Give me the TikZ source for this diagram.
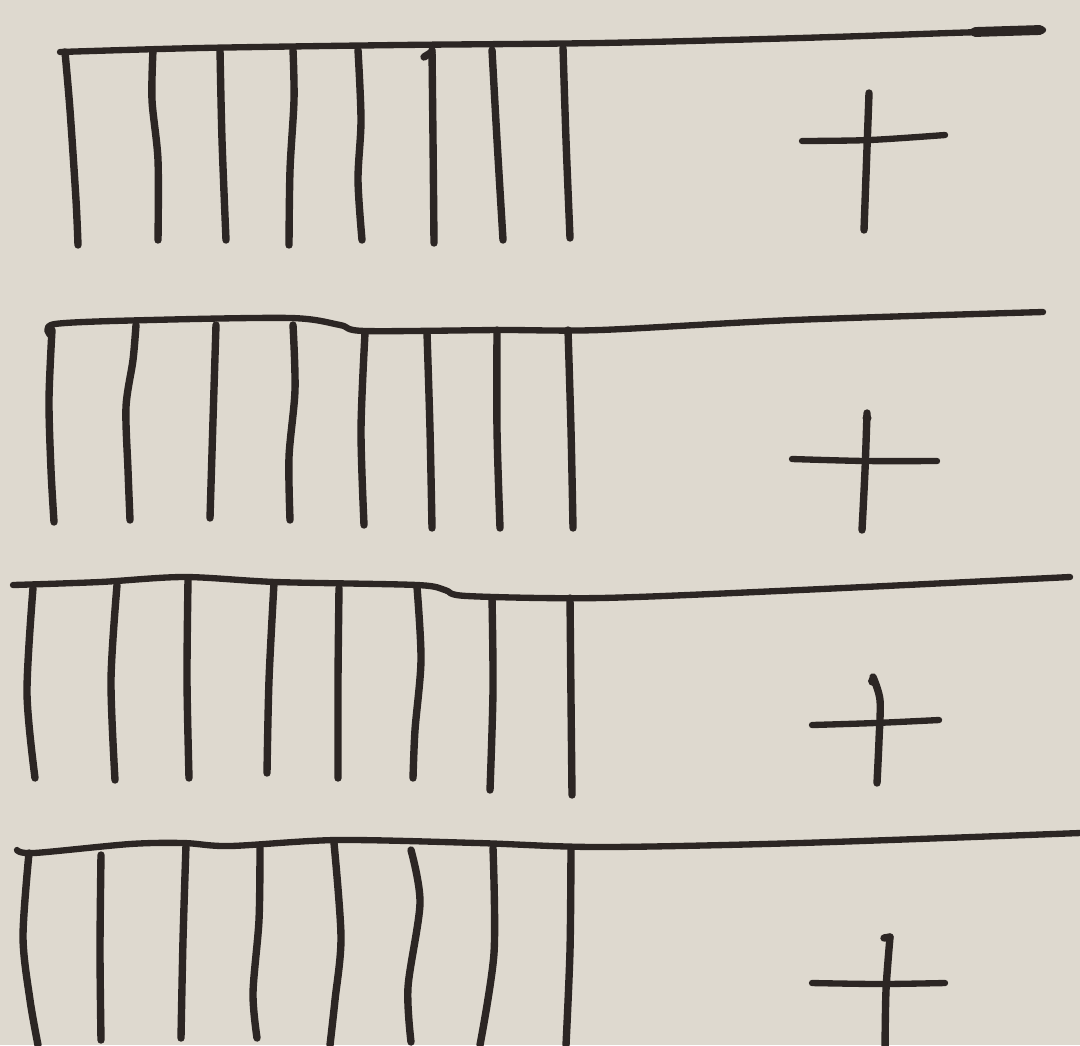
\documentclass[tikz,border=0pt]{standalone}
\definecolor{paper}{RGB}{222,217,207}
\definecolor{inkc}{RGB}{44,38,36}
\tikzset{
  pen/.style={draw=inkc, line width=2.1pt, line cap=round, line join=round},
  rule/.style={draw=inkc, line width=1.8pt, line cap=round, line join=round},
  crossbar/.style={draw=inkc, line width=1.8pt, line cap=round},
}
\begin{document}
\begin{tikzpicture}[x=0.01cm,y=-0.01cm]
\fill[paper] (0,0) rectangle (1080,1045);
\useasboundingbox (0,0) rectangle (1080,1045);
\begin{scope}
\clip (0,0) rectangle (1080,1045);
% ---------- row 1 ----------
\draw[rule] plot[smooth,tension=0.5] coordinates {(60,52) (200,48) (400,45) (600,43) (800,38) (950,33) (1043,30)};
\draw[draw=inkc,line width=2.8pt,line cap=round] (975,32) -- (1040,30);
\draw[pen] plot[smooth,tension=0.5] coordinates {(65,52) (70,110) (76,200) (78,245)};
\draw[pen] plot[smooth,tension=0.5] coordinates {(153,50) (152,100) (158,160) (158,240)};
\draw[pen] plot[smooth,tension=0.5] coordinates {(220,50) (222,140) (226,240)};
\draw[pen] plot[smooth,tension=0.5] coordinates {(293,50) (294,100) (290,170) (289,245)};
\draw[pen] plot[smooth,tension=0.5] coordinates {(358,50) (361,120) (358,180) (362,240)};
\draw[pen] plot[smooth,tension=0.5] coordinates {(432,50) (433,140) (434,243)};
\draw[pen] (424,57) -- (432,52);
\draw[pen] plot[smooth,tension=0.5] coordinates {(492,50) (497,140) (503,240)};
\draw[pen] plot[smooth,tension=0.5] coordinates {(563,48) (566,140) (570,238)};
\draw[crossbar] plot[smooth,tension=0.5] coordinates {(802,141) (870,140) (945,135)};
\draw[pen] (869,93) -- (864,230);
% ---------- row 2 ----------
\draw[rule] plot[smooth,tension=0.5] coordinates {(50,335) (55,324) (150,320) (291,318) (340,325) (365,331) (500,330) (600,330) (793,320) (1043,312)};
\draw[pen] plot[smooth,tension=0.5] coordinates {(52,330) (49,400) (51,470) (54,522)};
\draw[pen] plot[smooth,tension=0.5] coordinates {(136,325) (133,360) (126,407) (128,470) (130,520)};
\draw[pen] plot[smooth,tension=0.5] coordinates {(216,325) (213,420) (210,518)};
\draw[pen] plot[smooth,tension=0.5] coordinates {(293,325) (295,390) (289,457) (290,520)};
\draw[pen] plot[smooth,tension=0.5] coordinates {(365,333) (361,430) (364,525)};
\draw[pen] plot[smooth,tension=0.5] coordinates {(427,333) (430,430) (432,528)};
\draw[pen] plot[smooth,tension=0.5] coordinates {(497,330) (497,430) (500,528)};
\draw[pen] plot[smooth,tension=0.5] coordinates {(568,330) (571,430) (573,528)};
\draw[crossbar] plot[smooth,tension=0.5] coordinates {(792,459) (865,461) (937,461)};
\draw[pen] plot[smooth,tension=0.5] coordinates {(867,413) (865,470) (862,530)};
\fill[inkc] (867,418) circle (4.5);
% ---------- row 3 ----------
\draw[rule] plot[smooth,tension=0.5] coordinates {(13,585) (100,582) (184,577) (276,582) (417,585) (445,590) (467,596) (600,598) (800,590) (1070,577)};
\draw[pen] plot[smooth,tension=0.5] coordinates {(33,588) (27,693) (35,778)};
\draw[pen] plot[smooth,tension=0.5] coordinates {(117,585) (111,680) (115,780)};
\draw[pen] plot[smooth,tension=0.5] coordinates {(188,580) (187,680) (189,778)};
\draw[pen] plot[smooth,tension=0.5] coordinates {(274,583) (269,680) (267,773)};
\draw[pen] plot[smooth,tension=0.5] coordinates {(339,588) (338,680) (338,778)};
\draw[pen] plot[smooth,tension=0.5] coordinates {(417,587) (421,660) (415,730) (413,778)};
\draw[pen] plot[smooth,tension=0.5] coordinates {(492,598) (493,690) (490,790)};
\draw[pen] plot[smooth,tension=0.5] coordinates {(570,598) (571,700) (572,795)};
\draw[crossbar] plot[smooth,tension=0.5] coordinates {(812,725) (875,723) (939,720)};
\draw[pen] plot[smooth,tension=0.5] coordinates {(873,677) (880,700) (879,740) (877,783)};
\fill[inkc] (873,681) circle (5);
% ---------- row 4 ----------
\draw[rule] plot[smooth,tension=0.5] coordinates {(17,850) (34,853) (130,844) (184,843) (230,846) (337,840) (478,843) (600,847) (800,843) (1080,833)};
\draw[pen] plot[smooth,tension=0.5] coordinates {(29,853) (23,937) (30,1000) (38,1045)};
\draw[pen] plot[smooth,tension=0.5] coordinates {(101,855) (100,950) (101,1040)};
\draw[pen] plot[smooth,tension=0.5] coordinates {(186,845) (183,940) (181,1038)};
\draw[pen] plot[smooth,tension=0.5] coordinates {(260,848) (259,920) (253,993) (257,1038)};
\draw[pen] plot[smooth,tension=0.5] coordinates {(334,843) (341,937) (335,1000) (330,1045)};
\draw[pen] plot[smooth,tension=0.5] coordinates {(411,850) (420,903) (408,987) (411,1042)};
\draw[pen] plot[smooth,tension=0.5] coordinates {(493,848) (494,953) (480,1045)};
\draw[pen] plot[smooth,tension=0.5] coordinates {(571,848) (570,950) (566,1045)};
\draw[crossbar] plot[smooth,tension=0.5] coordinates {(812,983) (880,984) (945,983)};
\draw[pen] plot[smooth,tension=0.5] coordinates {(890,937) (886,990) (885,1050)};
\draw[pen] (884,938) -- (890,937);
\end{scope}
\end{tikzpicture}
\end{document}
